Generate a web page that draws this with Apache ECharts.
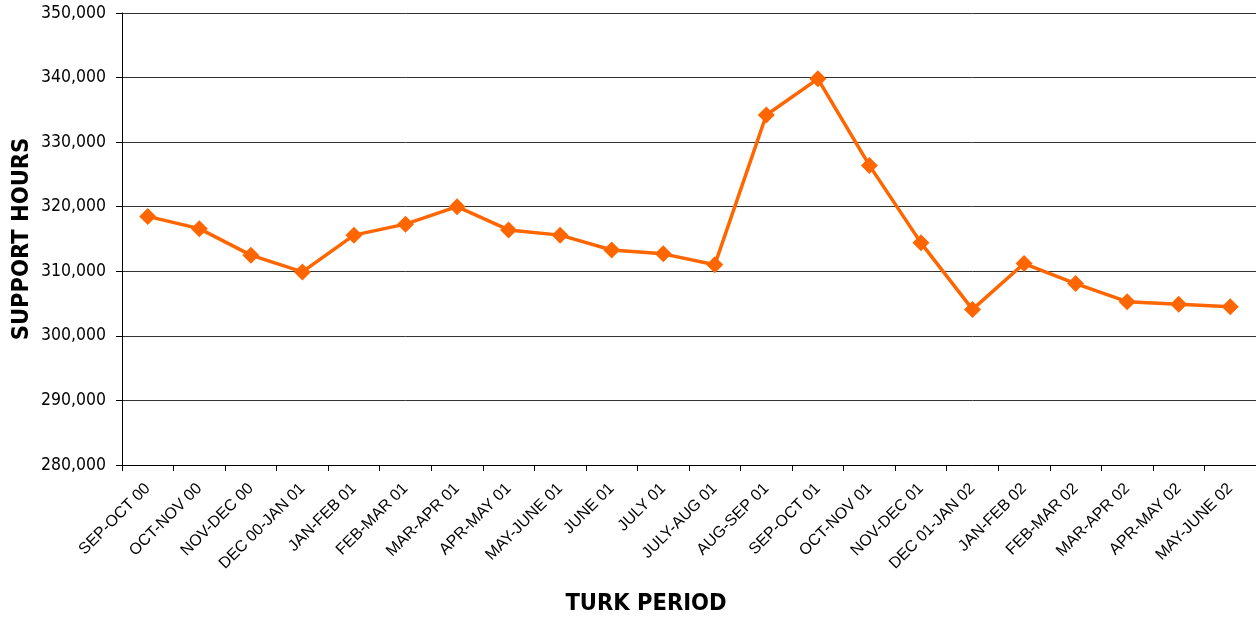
<!DOCTYPE html>
<html>
<head>
<meta charset="utf-8">
<script src="https://cdn.jsdelivr.net/npm/echarts@6/dist/echarts.min.js"></script>
<style>
html,body{margin:0;padding:0;background:#fff;}
#chart{width:1256px;height:618px;}
</style>
</head>
<body>
<div id="chart"></div>
<script>
const categories = ['SEP-OCT 00','OCT-NOV 00','NOV-DEC 00','DEC 00-JAN 01','JAN-FEB 01','FEB-MAR 01','MAR-APR 01','APR-MAY 01','MAY-JUNE 01','JUNE 01','JULY 01','JULY-AUG 01','AUG-SEP 01','SEP-OCT 01','OCT-NOV 01','NOV-DEC 01','DEC 01-JAN 02','JAN-FEB 02','FEB-MAR 02','MAR-APR 02','APR-MAY 02','MAY-JUNE 02'];
const supportHours = [318500,316600,312500,309900,315600,317300,320000,316400,315600,313300,312700,311000,334200,339800,326400,314400,304100,311200,308100,305300,304900,304500];
const yTicks = {min:280000, max:350000, interval:10000};
const xTitle = 'TURK PERIOD';
const yTitle = 'SUPPORT HOURS';

const chart = echarts.init(document.getElementById('chart'));
chart.setOption({
  animation:false,
  backgroundColor:'#ffffff',
  grid:{left:122,right:0,top:13,bottom:153,containLabel:false},
  xAxis:{
    type:'category',
    data:categories,
    boundaryGap:true,
    axisLine:{show:true,lineStyle:{color:'#000',width:1}},
    axisTick:{show:true,interval:0,length:6,lineStyle:{color:'#000'}},
    axisLabel:{interval:0,rotate:45,margin:21,color:'#000',fontFamily:'"Liberation Sans", Arial, sans-serif',fontSize:16},
    splitLine:{show:false}
  },
  yAxis:{
    type:'value',
    min:yTicks.min,max:yTicks.max,interval:yTicks.interval,
    axisLine:{show:true,lineStyle:{color:'#000',width:1}},
    axisTick:{show:true,length:6,lineStyle:{color:'#000'}},
    axisLabel:{margin:16,color:'#000',fontFamily:'"DejaVu Sans Condensed","DejaVu Sans",sans-serif',fontSize:17.5,
      formatter:v=>v.toLocaleString('en-US')},
    splitLine:{show:true,lineStyle:{color:'#333333',width:1}}
  },
  series:[{
    type:'line',
    data:supportHours,
    symbol:'diamond',
    symbolSize:17,
    lineStyle:{color:'#FF6600',width:3.5},
    itemStyle:{color:'#FF6600'},
    z:5
  }],
  graphic:[
    {type:'text',x:646,y:604,style:{text:xTitle,fill:'#000',font:'bold 23.5px "DejaVu Sans Condensed","DejaVu Sans", sans-serif',textAlign:'center',textVerticalAlign:'middle'}},
    {type:'text',x:22,y:239,rotation:Math.PI/2,style:{text:yTitle,fill:'#000',font:'bold 23.5px "DejaVu Sans Condensed","DejaVu Sans", sans-serif',textAlign:'center',textVerticalAlign:'middle'}}
  ]
});
</script>
</body>
</html>
